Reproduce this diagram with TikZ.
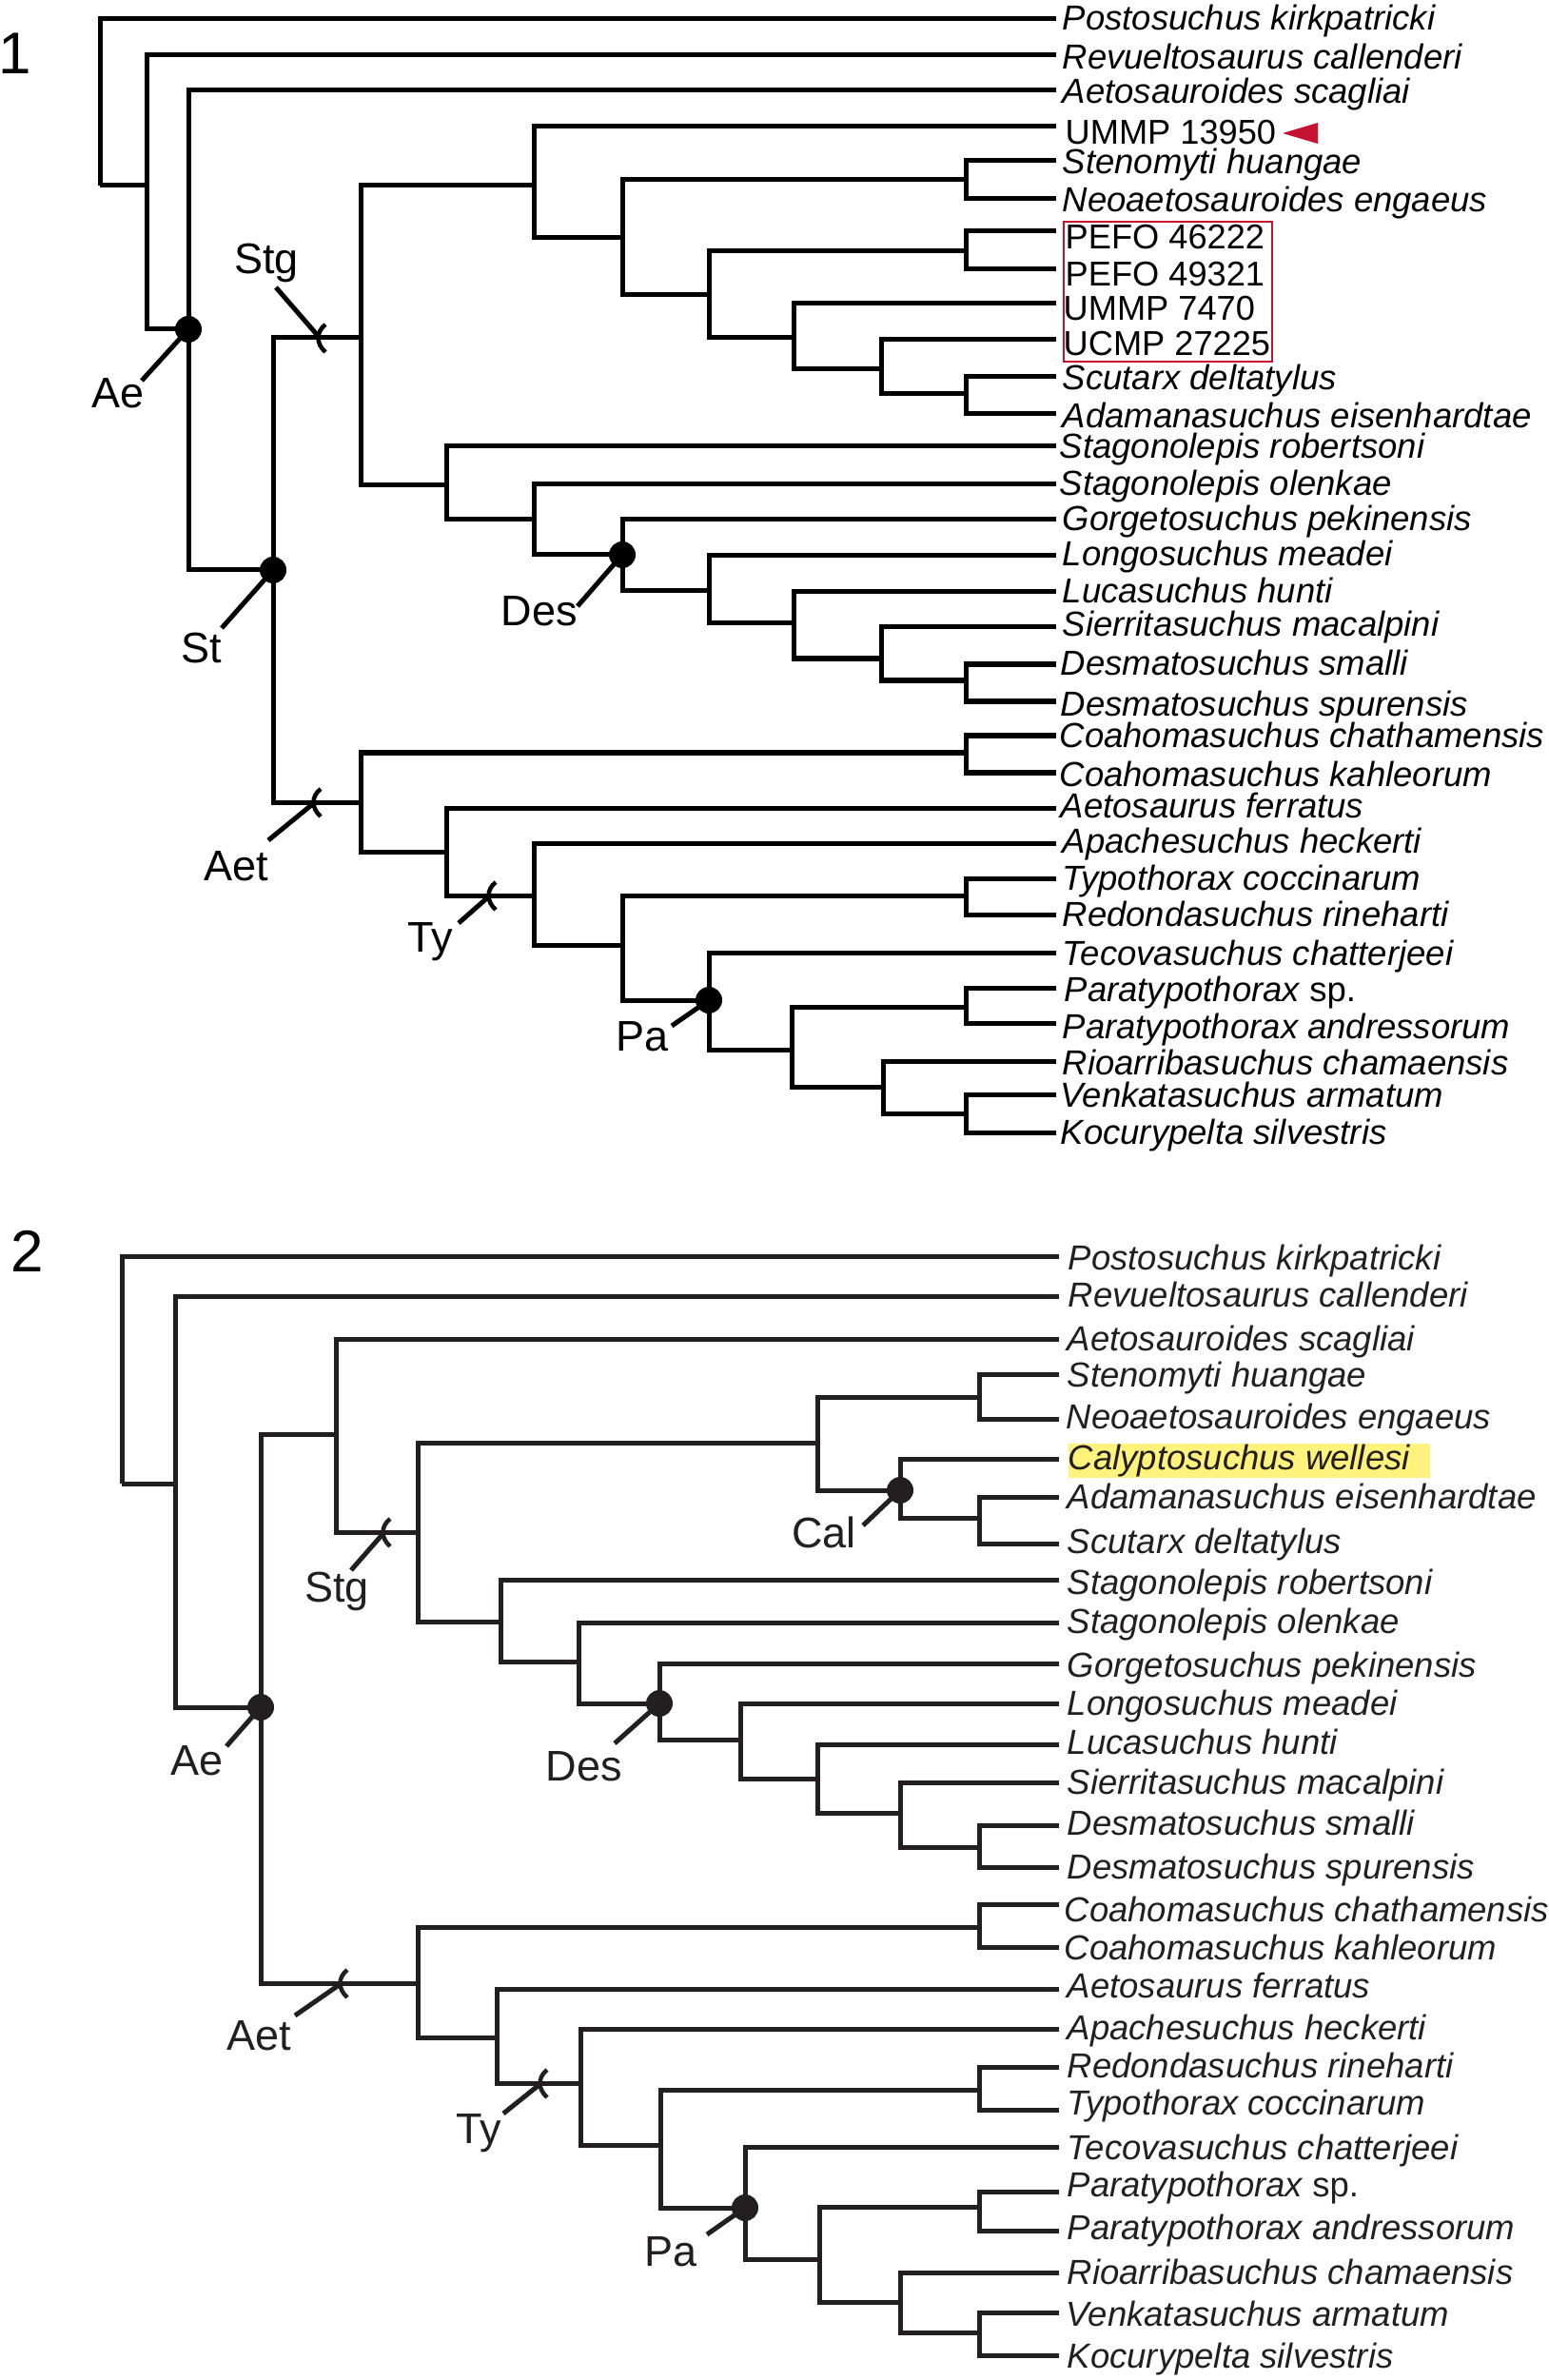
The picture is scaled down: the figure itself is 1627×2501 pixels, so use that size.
\documentclass[tikz,border=0pt]{standalone}
\usepackage{fontspec}
\setmainfont{Liberation Sans}
\definecolor{boxred}{RGB}{196,18,48}
\definecolor{hlyellow}{RGB}{255,243,125}
\definecolor{ink}{HTML}{000000}
\definecolor{ink2}{HTML}{231F20}
\newcommand\kids[3]{\draw[branch] (#1) |- (#2) (#1) |- (#3);}
\newcommand\tickat[1]{\draw[tickmark, shift={(#1)}] (6,-14) .. controls (-4,-6) and (-4,6) .. (6,15);}
\tikzset{
  branch/.style={line width=0.05cm, line join=miter},
  pointer/.style={line width=0.05cm},
  tickmark/.style={line width=0.045cm},
  nodedot/.style={circle, fill, inner sep=0pt, minimum size=0.28cm},
  taxon/.style={anchor=base west, inner sep=0pt, font=\fontsize{10.38}{12}\selectfont\itshape},
  specimen/.style={anchor=base west, inner sep=0pt, font=\fontsize{10.3}{12}\selectfont},
  cladelab/.style={anchor=base, inner sep=0pt, font=\fontsize{12.8}{15}\selectfont},
  panelnum/.style={anchor=base west, inner sep=0pt, font=\fontsize{17.6}{20}\selectfont},
}
\begin{document}
\begin{tikzpicture}[x=0.01cm, y=-0.01cm]
\useasboundingbox[fill=white] (0,0) rectangle (1627,2501);

% ================= PANEL 1 =================
\node[panelnum] (n1) at (-2,78) {1};
\begin{scope}[color=ink]
% leaf tips
\foreach \i/\y in {1/20,2/58,3/95,4/133,5/169,6/209,7/243,8/283,9/319,10/357,11/396,12/435,13/469,14/509,15/546,16/584,17/622,18/659,19/698,20/737,21/773,22/812,23/849,24/886,25/923,26/961,27/1001,28/1038,29/1075,30/1115,31/1150,32/1190}
  {\coordinate (a\i) at (1110,\y);}
% internal nodes
\coordinate (R1) at (105,195);
\coordinate (A2) at (154,195);
\coordinate (Ae) at (198,346);
\coordinate (St) at (287,599);
\coordinate (Stg) at (379,355);
\coordinate (U1) at (561,195);
\coordinate (V1) at (654,250);
\coordinate (SN1) at (1015,189);
\coordinate (W1) at (745,310);
\coordinate (PF1) at (1015,264);
\coordinate (X1) at (834,355);
\coordinate (Y1) at (926,388);
\coordinate (Z1) at (1015,414);
\coordinate (S1) at (469,510);
\coordinate (SO1) at (561,546);
\coordinate (Des) at (654,583);
\coordinate (L1) at (745,621);
\coordinate (Lu1) at (834,655);
\coordinate (Si1) at (926,692);
\coordinate (D1) at (1015,715);
\coordinate (Aet) at (379,843);
\coordinate (C1) at (1015,791);
\coordinate (Af1) at (469,895);
\coordinate (Ty) at (561,941);
\coordinate (T1) at (654,993);
\coordinate (TR1) at (1015,941);
\coordinate (Pa) at (745,1051);
\coordinate (Pt1) at (832,1103);
\coordinate (PP1) at (1015,1058);
\coordinate (Ri1) at (928,1142);
\coordinate (VK1) at (1015,1170);

\kids{R1}{a1}{A2}
\kids{A2}{a2}{Ae}
\kids{Ae}{a3}{St}
\kids{St}{Stg}{Aet}
\kids{Stg}{U1}{S1}
\kids{U1}{a4}{V1}
\kids{V1}{SN1}{W1}
\kids{SN1}{a5}{a6}
\kids{W1}{PF1}{X1}
\kids{PF1}{a7}{a8}
\kids{X1}{a9}{Y1}
\kids{Y1}{a10}{Z1}
\kids{Z1}{a11}{a12}
\kids{S1}{a13}{SO1}
\kids{SO1}{a14}{Des}
\kids{Des}{a15}{L1}
\kids{L1}{a16}{Lu1}
\kids{Lu1}{a17}{Si1}
\kids{Si1}{a18}{D1}
\kids{D1}{a19}{a20}
\kids{Aet}{C1}{Af1}
\kids{C1}{a21}{a22}
\kids{Af1}{a23}{Ty}
\kids{Ty}{a24}{T1}
\kids{T1}{TR1}{Pa}
\kids{TR1}{a25}{a26}
\kids{Pa}{a27}{Pt1}
\kids{Pt1}{PP1}{Ri1}
\kids{PP1}{a28}{a29}
\kids{Ri1}{a30}{VK1}
\kids{VK1}{a31}{a32}

% ticks
\coordinate (kStg) at (336,355);
\coordinate (kAet) at (331,843);
\coordinate (kTy) at (515,941);
\tickat{kStg}
\tickat{kAet}
\tickat{kTy}

% clade labels and pointers
\node[cladelab] (lAe) at (124,429) {Ae};
\node[cladelab] (lSt) at (212,696) {St};
\node[cladelab] (lStg) at (280,288) {Stg};
\node[cladelab] (lDes) at (567,658) {Des};
\node[cladelab] (lAet) at (248,925) {Aet};
\node[cladelab] (lTy) at (452,1000) {Ty};
\node[cladelab] (lPa) at (675,1104) {Pa};
\coordinate (pAe) at (149,400);
\coordinate (pSt) at (233,660);
\coordinate (pStg) at (290,302);
\coordinate (pDes) at (607,637);
\coordinate (pAet) at (282,883);
\coordinate (pTy) at (482,970);
\coordinate (pPa) at (706,1078);
\draw[pointer] (pAe) -- (Ae);
\draw[pointer] (pSt) -- (St);
\draw[pointer] (pStg) -- (kStg);
\draw[pointer] (pDes) -- (Des);
\draw[pointer] (pAet) -- (kAet);
\draw[pointer] (pTy) -- (kTy);
\draw[pointer] (pPa) -- (Pa);
\node[nodedot] (dAe) at (Ae) {};
\node[nodedot] (dSt) at (St) {};
\node[nodedot] (dDes) at (Des) {};
\node[nodedot] (dPa) at (Pa) {};

% taxon labels
\node[taxon] (la1) at (1116,32) {Postosuchus kirkpatricki};
\node[taxon] (la2) at (1116,73) {Revueltosaurus callenderi};
\node[taxon] (la3) at (1116,109) {Aetosauroides scagliai};
\node[specimen] (la4) at (1119,152) {UMMP 13950};
\node[taxon] (la5) at (1116,183) {Stenomyti huangae};
\node[taxon] (la6) at (1116,223) {Neoaetosauroides engaeus};
\node[specimen] (la7) at (1119,262) {PEFO 46222};
\node[specimen] (la8) at (1119,301) {PEFO 49321};
\node[specimen] (la9) at (1117,337) {UMMP 7470};
\node[specimen] (la10) at (1117,374) {UCMP 27225};
\node[taxon] (la11) at (1116,410) {Scutarx deltatylus};
\node[taxon] (la12) at (1116,450) {Adamanasuchus eisenhardtae};
\node[taxon] (la13) at (1113,482) {Stagonolepis robertsoni};
\node[taxon] (la14) at (1113,521) {Stagonolepis olenkae};
\node[taxon] (la15) at (1116,558) {Gorgetosuchus pekinensis};
\node[taxon] (la16) at (1116,595) {Longosuchus meadei};
\node[taxon] (la17) at (1116,634) {Lucasuchus hunti};
\node[taxon] (la18) at (1116,669) {Sierritasuchus macalpini};
\node[taxon] (la19) at (1114,710) {Desmatosuchus smalli};
\node[taxon] (la20) at (1114,752) {Desmatosuchus spurensis};
\node[taxon] (la21) at (1113,785) {Coahomasuchus chathamensis};
\node[taxon] (la22) at (1113,826) {Coahomasuchus kahleorum};
\node[taxon] (la23) at (1114,859) {Aetosaurus ferratus};
\node[taxon] (la24) at (1116,896) {Apachesuchus heckerti};
\node[taxon] (la25) at (1116,935) {Typothorax coccinarum};
\node[taxon] (la26) at (1116,973) {Redondasuchus rineharti};
\node[taxon] (la27) at (1116,1014) {Tecovasuchus chatterjeei};
\node[taxon] (la28) at (1118,1052) {Paratypothorax {\upshape sp.}};
\node[taxon] (la29) at (1116,1091) {Paratypothorax andressorum};
\node[taxon] (la30) at (1116,1129) {Rioarribasuchus chamaensis};
\node[taxon] (la31) at (1114,1163) {Venkatasuchus armatum};
\node[taxon] (la32) at (1114,1202) {Kocurypelta silvestris};
\end{scope}

% red box and arrow
\node[draw=boxred, line width=0.02cm, rectangle, anchor=north west, inner sep=0pt,
      minimum width=2.19cm, minimum height=1.47cm] (redbox) at (1117,232) {};
\fill[boxred] (1348,140) -- (1385,129) -- (1385,151) -- cycle;

% ================= PANEL 2 =================
\node[panelnum] (n2) at (11,1336) {2};
\node[fill=hlyellow, rectangle, anchor=north west, inner sep=0pt,
      minimum width=3.80cm, minimum height=0.36cm] (hl) at (1122,1516) {};
\begin{scope}[color=ink2]
\foreach \i/\y in {1/1320,2/1362,3/1407,4/1444,5/1491,6/1533,7/1573,8/1622,9/1660,10/1705,11/1748,12/1790,13/1833,14/1873,15/1918,16/1962,17/2001,18/2046,19/2090,20/2132,21/2172,22/2217,23/2256,24/2303,25/2344,26/2388,27/2430,28/2475}
  {\coordinate (b\i) at (1113,\y);}
\coordinate (R2) at (128,1559);
\coordinate (B2) at (184,1559);
\coordinate (Ae2) at (274,1794);
\coordinate (B3) at (353,1507);
\coordinate (Stg2) at (439,1610);
\coordinate (B4) at (859,1516);
\coordinate (SN2) at (1029,1468);
\coordinate (Cal) at (946,1566);
\coordinate (AS2) at (1029,1595);
\coordinate (B5) at (526,1704);
\coordinate (B6) at (608,1746);
\coordinate (Des2) at (693,1790);
\coordinate (B7) at (778,1828);
\coordinate (B8) at (859,1869);
\coordinate (B9) at (946,1905);
\coordinate (D2) at (1029,1941);
\coordinate (Aet2) at (439,2084);
\coordinate (C2) at (1029,2025);
\coordinate (B10) at (522,2141);
\coordinate (Ty2) at (610,2189);
\coordinate (B11) at (694,2254);
\coordinate (RT2) at (1029,2196);
\coordinate (Pa2) at (783,2320);
\coordinate (B12) at (861,2374);
\coordinate (PP2) at (1029,2319);
\coordinate (B13) at (946,2419);
\coordinate (VK2) at (1029,2451);

\kids{R2}{b1}{B2}
\kids{B2}{b2}{Ae2}
\kids{Ae2}{B3}{Aet2}
\kids{B3}{b3}{Stg2}
\kids{Stg2}{B4}{B5}
\kids{B4}{SN2}{Cal}
\kids{SN2}{b4}{b5}
\kids{Cal}{b6}{AS2}
\kids{AS2}{b7}{b8}
\kids{B5}{b9}{B6}
\kids{B6}{b10}{Des2}
\kids{Des2}{b11}{B7}
\kids{B7}{b12}{B8}
\kids{B8}{b13}{B9}
\kids{B9}{b14}{D2}
\kids{D2}{b15}{b16}
\kids{Aet2}{C2}{B10}
\kids{C2}{b17}{b18}
\kids{B10}{b19}{Ty2}
\kids{Ty2}{b20}{B11}
\kids{B11}{RT2}{Pa2}
\kids{RT2}{b21}{b22}
\kids{Pa2}{b23}{B12}
\kids{B12}{PP2}{B13}
\kids{PP2}{b24}{b25}
\kids{B13}{b26}{VK2}
\kids{VK2}{b27}{b28}

\coordinate (kStg2) at (404,1610);
\coordinate (kAet2) at (359,2084);
\coordinate (kTy2) at (569,2189);
\tickat{kStg2}
\tickat{kAet2}
\tickat{kTy2}

\node[cladelab] (lAe2) at (207,1865) {Ae};
\node[cladelab] (lStg2) at (354,1683) {Stg};
\node[cladelab] (lDes2) at (614,1871) {Des};
\node[cladelab] (lCal) at (866,1626) {Cal};
\node[cladelab] (lAet2) at (272,2154) {Aet};
\node[cladelab] (lTy2) at (503,2252) {Ty};
\node[cladelab] (lPa2) at (705,2381) {Pa};
\coordinate (pAe2) at (238,1835);
\coordinate (pStg2) at (369,1650);
\coordinate (pDes2) at (646,1832);
\coordinate (pCal) at (907,1603);
\coordinate (pAet2) at (310,2118);
\coordinate (pTy2) at (529,2221);
\coordinate (pPa2) at (743,2348);
\draw[pointer] (pAe2) -- (Ae2);
\draw[pointer] (pStg2) -- (kStg2);
\draw[pointer] (pDes2) -- (Des2);
\draw[pointer] (pCal) -- (Cal);
\draw[pointer] (pAet2) -- (kAet2);
\draw[pointer] (pTy2) -- (kTy2);
\draw[pointer] (pPa2) -- (Pa2);
\node[nodedot] (dAe2) at (Ae2) {};
\node[nodedot] (dDes2) at (Des2) {};
\node[nodedot] (dCal) at (Cal) {};
\node[nodedot] (dPa2) at (Pa2) {};

\node[taxon] (lb1) at (1122,1334) {Postosuchus kirkpatricki};
\node[taxon] (lb2) at (1122,1373) {Revueltosaurus callenderi};
\node[taxon] (lb3) at (1121,1419) {Aetosauroides scagliai};
\node[taxon] (lb4) at (1121,1457) {Stenomyti huangae};
\node[taxon] (lb5) at (1120,1501) {Neoaetosauroides engaeus};
\node[taxon] (lb6) at (1122,1544) {Calyptosuchus wellesi};
\node[taxon] (lb7) at (1121,1585) {Adamanasuchus eisenhardtae};
\node[taxon] (lb8) at (1121,1632) {Scutarx deltatylus};
\node[taxon] (lb9) at (1121,1675) {Stagonolepis robertsoni};
\node[taxon] (lb10) at (1121,1716) {Stagonolepis olenkae};
\node[taxon] (lb11) at (1121,1762) {Gorgetosuchus pekinensis};
\node[taxon] (lb12) at (1121,1802) {Longosuchus meadei};
\node[taxon] (lb13) at (1121,1843) {Lucasuchus hunti};
\node[taxon] (lb14) at (1121,1885) {Sierritasuchus macalpini};
\node[taxon] (lb15) at (1121,1928) {Desmatosuchus smalli};
\node[taxon] (lb16) at (1121,1974) {Desmatosuchus spurensis};
\node[taxon] (lb17) at (1118,2019) {Coahomasuchus chathamensis};
\node[taxon] (lb18) at (1118,2059) {Coahomasuchus kahleorum};
\node[taxon] (lb19) at (1121,2099) {Aetosaurus ferratus};
\node[taxon] (lb20) at (1121,2143) {Apachesuchus heckerti};
\node[taxon] (lb21) at (1121,2183) {Redondasuchus rineharti};
\node[taxon] (lb22) at (1121,2222) {Typothorax coccinarum};
\node[taxon] (lb23) at (1121,2269) {Tecovasuchus chatterjeei};
\node[taxon] (lb24) at (1121,2308) {Paratypothorax {\upshape sp.}};
\node[taxon] (lb25) at (1121,2353) {Paratypothorax andressorum};
\node[taxon] (lb26) at (1121,2400) {Rioarribasuchus chamaensis};
\node[taxon] (lb27) at (1120,2444) {Venkatasuchus armatum};
\node[taxon] (lb28) at (1121,2488) {Kocurypelta silvestris};
\end{scope}
\end{tikzpicture}
\end{document}
